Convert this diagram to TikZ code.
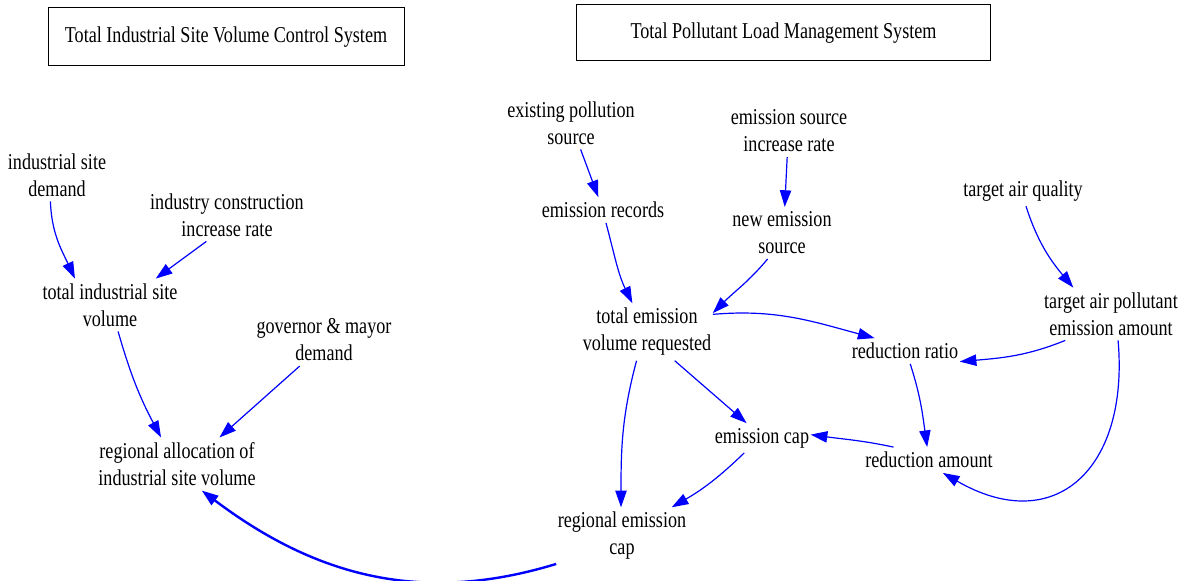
\documentclass[tikz,border=0pt]{standalone}
\usepackage{fontspec}
\setmainfont{Liberation Serif}[FakeStretch=0.8]
\usetikzlibrary{arrows.meta}

\begin{document}
\begin{tikzpicture}[x=0.75pt,y=-0.75pt]
\tikzstyle{var}=[align=center,inner xsep=1pt,inner ysep=3.5pt,font=\fontsize{17}{20.25}\selectfont]
\tikzstyle{sysbox}=[var,draw,line width=0.75pt]
\tikzstyle{link}=[draw=blue,line width=0.9pt,-{Triangle[length=12.5pt,width=8.5pt]}]
\tikzstyle{mainlink}=[link,line width=1.8pt]
\useasboundingbox (0,0) rectangle (1186,581);
\node[sysbox,minimum width=267pt,minimum height=43.5pt] (ctrlsys) at (226,37) {Total Industrial Site Volume Control System};
\node[sysbox,minimum width=310pt,minimum height=42pt] (loadsys) at (783.5,33) {Total Pollutant Load Management System};
\node[var] (isd) at (57,175) {industrial site\\demand};
\node[var] (icir) at (227,215) {industry construction\\increase rate};
\node[var] (tisv) at (110,305) {total industrial site\\volume};
\node[var] (gmd) at (324,340) {governor \& mayor\\demand};
\node[var] (rais) at (177,464) {regional allocation of\\industrial site volume};
\node[var] (eps) at (571,123) {existing pollution\\source};
\node[var] (esir) at (789,131) {emission source\\increase rate};
\node[var] (er) at (603,210) {emission records};
\node[var] (nes) at (782,233) {new emission\\source};
\node[var] (taq) at (1023,191) {target air quality};
\node[var] (tevr) at (647,332) {total emission\\volume requested};
\node[var] (tape) at (1111,314) {target air pollutant\\emission amount};
\node[var] (rr) at (905,351) {reduction ratio};
\node[var] (ec) at (762,438) {emission cap};
\node[var] (ra) at (929,460) {reduction amount};
\node[var] (rec) at (622,536) {regional emission\\cap};
% industrial site side
\draw[link] (isd.-104) to[out=-88,in=115] (tisv.143);
\draw[link] (icir.-128) -- (tisv.30);
\draw[link] (tisv.-73) to[out=-74,in=118] (rais.121);
\draw[link] (gmd.-133) -- (rais.32);
\draw[mainlink] (rec.-157) to[out=-163,in=-37] (rais.-47);
% pollutant load side
\draw[link] (eps.-70) -- (er.110);
\draw[link] (esir.-94) -- (nes.84);
\draw[link] (er.-77) to[out=-75,in=116] (tevr.117);
\draw[link] (nes.-119) to[out=-130,in=45] (tevr.16);
\draw[link] (tevr.15) to[out=5,in=165] (rr.157);
\draw[link] (taq.-79) to[out=-72,in=130] (tape.145);
\draw[link] (tape.-150) to[out=-158,in=5] (rr.-11);
\draw[link] (tape.-75) to[out=-85,in=-30,looseness=1.5] (ra.-43);
\draw[link] (rr.-68) to[out=-72,in=98] (ra.98);
\draw[link] (ra.160) to[out=168,in=-8] (ec.4);
\draw[link] (tevr.-46) -- (ec.136);
\draw[link] (tevr.-110) to[out=-105,in=90] (rec.92);
\draw[link] (ec.-140) to[out=-136,in=30] (rec.30);
\end{tikzpicture}
\end{document}
